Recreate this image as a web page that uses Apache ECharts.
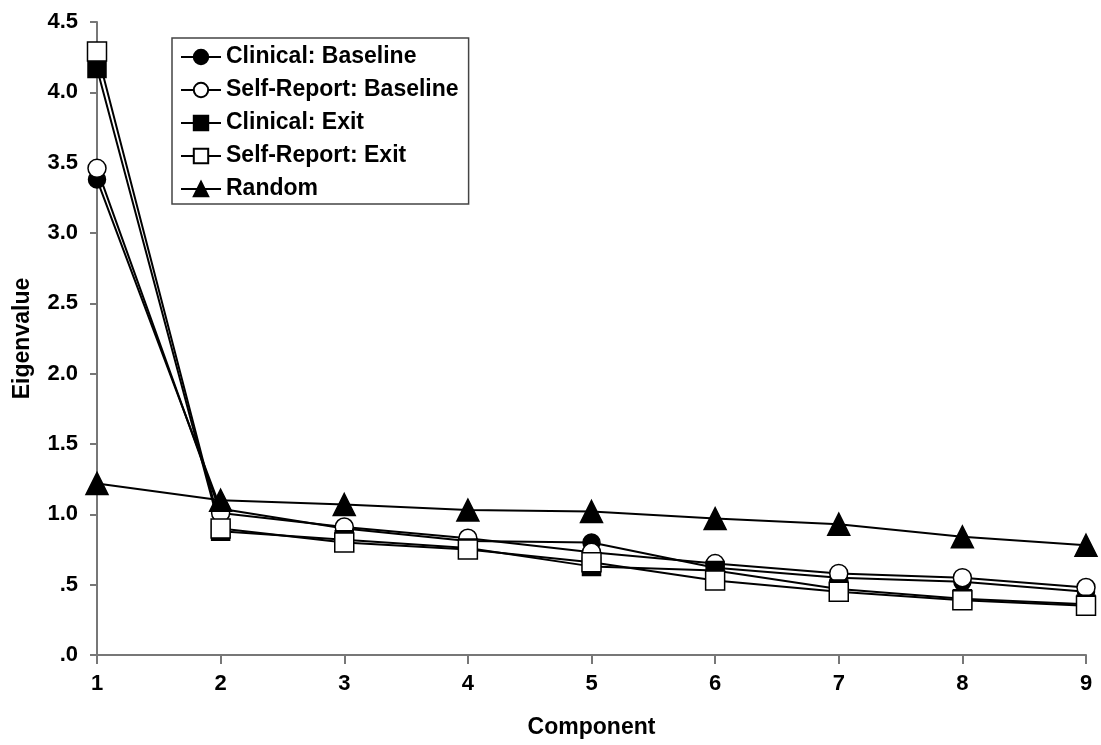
<!DOCTYPE html>
<html>
<head>
<meta charset="utf-8">
<script src="https://cdn.jsdelivr.net/npm/echarts@6/dist/echarts.min.js"></script>
<style>
html,body{margin:0;padding:0;background:#fff;}
#chart{width:1101px;height:745px;}
</style>
</head>
<body>
<div id="chart"></div>
<script>
const categories = ['1','2','3','4','5','6','7','8','9'];
const clinicalBaseline = [3.38, 1.04, 0.90, 0.81, 0.80, 0.62, 0.55, 0.52, 0.45];
const selfReportBaseline = [3.46, 1.01, 0.91, 0.83, 0.73, 0.65, 0.58, 0.55, 0.48];
const clinicalExit = [4.17, 0.88, 0.82, 0.76, 0.63, 0.60, 0.47, 0.40, 0.36];
const selfReportExit = [4.29, 0.90, 0.80, 0.75, 0.66, 0.53, 0.45, 0.39, 0.35];
const random = [1.22, 1.10, 1.07, 1.03, 1.02, 0.97, 0.93, 0.84, 0.78];

const FONT = '"Liberation Sans", Arial, sans-serif';
const chart = echarts.init(document.getElementById('chart'), null, {renderer: 'canvas'});

function mk(name, data, symbol, filled, size) {
  return {
    name: name,
    type: 'line',
    data: data,
    symbol: symbol,
    symbolSize: size,
    showAllSymbol: true,
    lineStyle: {color: '#000', width: 2},
    itemStyle: {color: filled ? '#000' : '#fff', borderColor: '#000', borderWidth: 1.5, opacity: 1},
    emphasis: {disabled: true},
    animation: false
  };
}

chart.setOption({
  backgroundColor: '#fff',
  animation: false,
  grid: {left: 97, right: 15, top: 22, bottom: 90, containLabel: false},
  legend: {
    orient: 'vertical',
    left: 172, top: 38,
    padding: [6, 10, 2, 8],
    borderColor: '#444', borderWidth: 1.5,
    itemWidth: 40, itemHeight: 18, itemGap: 7,
    textStyle: {fontFamily: FONT, fontWeight: 'bold', fontSize: 23, color: '#000', lineHeight: 26},
    data: ['Clinical: Baseline', 'Self-Report: Baseline', 'Clinical: Exit', 'Self-Report: Exit', 'Random']
  },
  xAxis: {
    type: 'category',
    data: categories,
    boundaryGap: false,
    name: 'Component',
    nameLocation: 'middle',
    nameGap: 61,
    nameTextStyle: {fontFamily: FONT, fontWeight: 'bold', fontSize: 23, color: '#000'},
    axisLine: {lineStyle: {color: '#777', width: 2}},
    axisTick: {alignWithLabel: true, length: 9, lineStyle: {color: '#777', width: 2}},
    axisLabel: {fontFamily: FONT, fontWeight: 'bold', fontSize: 22, color: '#000', margin: 18}
  },
  yAxis: {
    type: 'value',
    min: 0, max: 4.5, interval: 0.5,
    name: 'Eigenvalue',
    nameLocation: 'middle',
    nameGap: 63,
    nameTextStyle: {fontFamily: FONT, fontWeight: 'bold', fontSize: 23, color: '#000'},
    splitLine: {show: false},
    axisLine: {show: true, lineStyle: {color: '#777', width: 2}},
    axisTick: {show: true, length: 7, lineStyle: {color: '#777', width: 2}},
    axisLabel: {
      fontFamily: FONT, fontWeight: 'bold', fontSize: 22, color: '#000', margin: 19,
      formatter: function (v) { const s = v.toFixed(1); return v < 1 ? s.replace(/^0/, '') : s; }
    }
  },
  series: [
    mk('Clinical: Baseline', clinicalBaseline, 'circle', true, 17),
    mk('Self-Report: Baseline', selfReportBaseline, 'circle', false, 18),
    mk('Clinical: Exit', clinicalExit, 'rect', true, 18),
    mk('Self-Report: Exit', selfReportExit, 'rect', false, 19),
    mk('Random', random, 'triangle', true, 22)
  ]
});
</script>
</body>
</html>
